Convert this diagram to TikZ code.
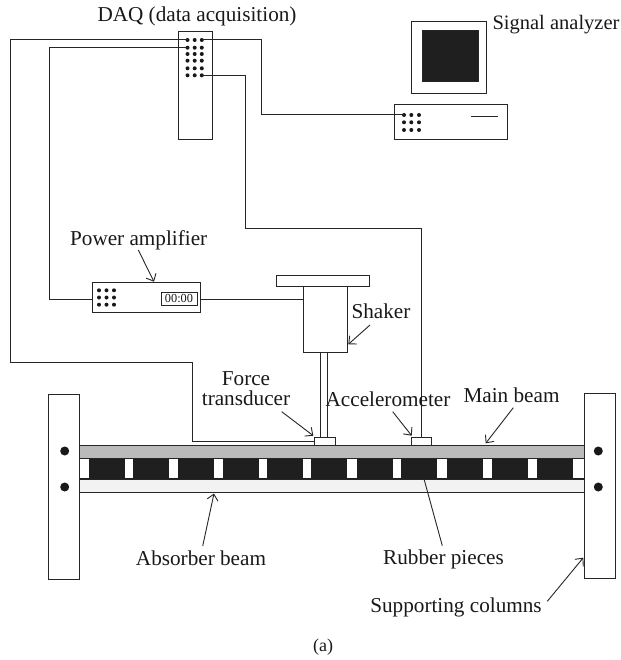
\documentclass[tikz,border=0pt]{standalone}
\usepackage{fontspec}
\setmainfont{Liberation Serif}
\usetikzlibrary{arrows.meta}
\newcommand{\bxnode}[6][]{%
  \pgfmathsetmacro{\bxw}{#5-#3}\pgfmathsetmacro{\bxh}{#6-#4}%
  \pgfmathsetmacro{\bxx}{(#3+#5)/2}\pgfmathsetmacro{\bxy}{(#4+#6)/2}%
  \node[boxnode,minimum width=\bxw pt,minimum height=\bxh pt,#1] (#2) at (\bxx,\bxy) {};}
\tikzset{
  boxnode/.style={draw=black!85,line width=1pt,fill=white,inner sep=0pt,outer sep=0pt},
  wire/.style={draw=black!85,line width=1pt},
  lbl/.style={font=\fontsize{21.2}{23}\selectfont,text=black!90,inner sep=0pt,outer sep=0pt},
  dot/.style={circle,fill=black!90,inner sep=0pt,minimum size=4pt,outer sep=0pt},
  bolt/.style={circle,fill=black!90,inner sep=0pt,minimum size=9pt},
  callout/.style={draw=black!85,line width=0.9pt,-{Straight Barb[length=6pt,width=11pt,line width=0.9pt]}},
  gap/.style={fill=white,draw=none}
}
\begin{document}
\begin{tikzpicture}[x=1pt,y=-1pt]
\useasboundingbox[fill=white] (0,0) rectangle (620,660);
% DAQ
\bxnode{daq}{178.5}{31.5}{212}{140}
\foreach \c/\x in {1/187.5,2/194.7,3/201.8}
  \foreach \r/\y in {1/40,2/47.7,3/54,4/60.7,5/68.3,6/75.3}
    \node[dot] (dq\r\c) at (\x,\y) {};
% Signal analyzer
\bxnode{monitor}{411.7}{22}{486.7}{94}
\bxnode[fill=black!88]{screen}{422}{31}{478}{81.7}
\bxnode{computer}{394}{105}{507.3}{139.5}
\foreach \c/\x in {1/404,2/411.3,3/419}
  \foreach \r/\y in {1/115,2/122.3,3/130}
    \node[dot] (pc\r\c) at (\x,\y) {};
\coordinate (pcl1) at (471,116.7);
\coordinate (pcl2) at (498,116.7);
\draw[wire] (pcl1) -- (pcl2);
% Amplifier
\bxnode{amp}{92.7}{282.3}{200}{312.7}
\foreach \c/\x in {1/99,2/106.5,3/114}
  \foreach \r/\y in {1/290.3,2/297.5,3/304.7}
    \node[dot] (am\r\c) at (\x,\y) {};
\bxnode{disp}{161}{292}{197}{305.3}
\node[font=\fontsize{12.3}{13}\selectfont,inner sep=0pt,text=black!90] (time) at (disp) {00:00};
% Shaker
\bxnode{plate}{276.7}{275.3}{369.3}{286}
\bxnode{shaker}{303.3}{286}{347.3}{352}
\bxnode{rod}{320.7}{352}{327.3}{437.3}
% Columns and beams
\bxnode{lcol}{48.7}{394}{79}{579}
\bxnode{rcol}{584.3}{393}{615.3}{578}
\bxnode[fill=black!88]{band}{79}{458.3}{584.3}{479}
\foreach \a/\b in {79.6/89,125/133,169/178,214/222.7,259/267,303/311,347/357,393/401,437/447,483/492,528/537,573/583.8}
  \fill[gap] (\a,459.4) rectangle (\b,478);
\bxnode[fill=black!27]{main}{79}{445.7}{584.3}{458.3}
\bxnode[fill=black!5]{absorber}{79}{479}{584.3}{492}
\bxnode{force}{314.3}{437.3}{335.3}{445.7}
\bxnode{accel}{411.7}{437.3}{431.7}{445.7}
\node[bolt] (b1) at (64.7,451) {};
\node[bolt] (b2) at (64.7,487) {};
\node[bolt] (b3) at (598.3,451) {};
\node[bolt] (b4) at (598.3,487) {};
% Wiring
\coordinate (w1a) at (10,40);
\coordinate (w1b) at (10,362);
\coordinate (w1c) at (192.3,362);
\coordinate (w1d) at (192.3,441);
\draw[wire] (dq11.center) -- (w1a) -- (w1b) -- (w1c) -- (w1d) -- (force.west |- w1d);
\coordinate (w2a) at (49,47.7);
\coordinate (w2b) at (49,299);
\draw[wire] (dq21.center) -- (w2a) -- (w2b) -- (amp.west |- w2b);
\coordinate (w3a) at (261.7,40);
\coordinate (w3b) at (261.7,115);
\draw[wire] (dq13.center) -- (w3a) -- (w3b) -- (pc11.center);
\coordinate (w4a) at (245.7,75.3);
\coordinate (w4b) at (245.7,228);
\coordinate (w4c) at (421,228);
\draw[wire] (dq63.center) -- (w4a) -- (w4b) -- (w4c) -- (w4c |- accel.north);
\coordinate (w5) at (200,299);
\draw[wire] (w5) -- (shaker.west |- w5);
% Labels
\node[lbl,anchor=base] (ldaq) at (197,22) {DAQ (data acquisition)};
\node[lbl,anchor=base,font=\fontsize{20.5}{22}\selectfont] (lsig) at (556,29.5) {Signal analyzer};
\node[lbl,anchor=base] (lamp) at (138.7,245) {Power amplifier};
\node[lbl,anchor=base] (lsha) at (381,318) {Shaker};
\node[lbl,anchor=base] (lfo1) at (246,385) {Force};
\node[lbl,anchor=base] (lfo2) at (246,405) {transducer};
\node[lbl,anchor=base] (lacc) at (388,406) {Accelerometer};
\node[lbl,anchor=base] (lmai) at (511.5,402) {Main beam};
\node[lbl,anchor=base] (labs) at (201,565) {Absorber beam};
\node[lbl,anchor=base] (lrub) at (443.5,564) {Rubber pieces};
\node[lbl,anchor=base] (lsup) at (456,612) {Supporting columns};
\node[lbl,anchor=base,font=\fontsize{18}{20}\selectfont] (lcap) at (323,651) {(a)};
% Callouts
\coordinate (a1) at (138.3,250);
\coordinate (a2) at (154,281.7);
\draw[callout] (a1) -- (a2);
\coordinate (a3) at (370,325);
\coordinate (a4) at (348.3,344.3);
\draw[callout] (a3) -- (a4);
\coordinate (a5) at (281.7,411.7);
\coordinate (a6) at (313.3,435.7);
\draw[callout] (a5) -- (a6);
\coordinate (a7) at (202.7,546);
\coordinate (a8) at (214,493.5);
\draw[callout] (a7) -- (a8);
\coordinate (a9) at (392.7,411.7);
\coordinate (a10) at (411.7,435.7);
\draw[callout] (a9) -- (a10);
\coordinate (a11) at (513.3,407.7);
\coordinate (a12) at (485.7,443.3);
\draw[callout] (a11) -- (a12);
\coordinate (a13) at (442.3,545.7);
\coordinate (a14) at (424,479);
\draw[wire,line width=0.9pt] (a13) -- (a14);
\coordinate (a15) at (547.3,601.3);
\coordinate (a16) at (583.3,557.7);
\draw[callout] (a15) -- (a16);
\end{tikzpicture}
\end{document}
